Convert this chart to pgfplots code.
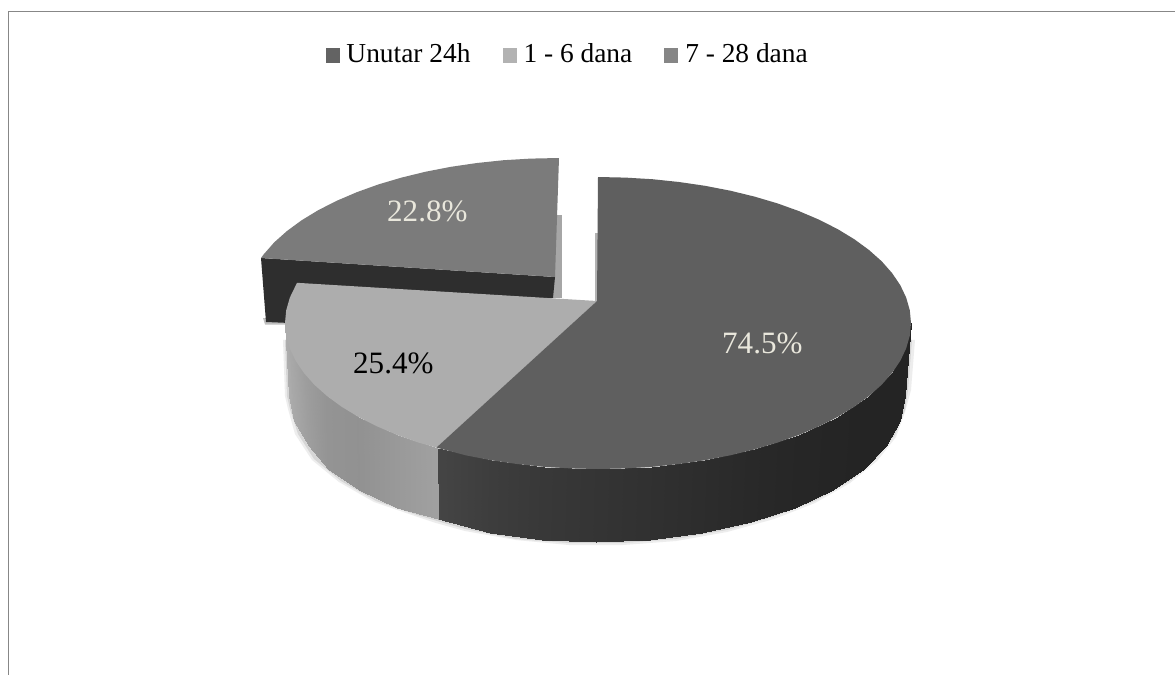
\documentclass[border=0pt]{standalone}
\usepackage{fontspec}
\setmainfont{Liberation Serif}
\usepackage{pgfplots}
\usepgfplotslibrary{patchplots}
\pgfplotsset{compat=1.18}
\definecolor{cA}{HTML}{5F5F5F}
\definecolor{cB}{HTML}{ADADAD}
\definecolor{cC}{HTML}{7B7B7B}
\definecolor{cAleg}{HTML}{636363}
\definecolor{cBleg}{HTML}{B2B2B2}
\definecolor{cCleg}{HTML}{868686}
\definecolor{cream}{HTML}{E9E7DC}
\begin{document}
\begin{tikzpicture}
\begin{axis}[
  scale only axis, width=1175bp, height=675bp,
  xmin=0, xmax=1175, ymin=0, ymax=675, y dir=reverse,
  hide axis,
  colormap={graymap}{gray(0)=(0); gray(1)=(1)},
  point meta min=0, point meta max=1,
  legend columns=-1,
  legend style={at={(axis cs:325.5,53.5)}, anchor=west, draw=none, fill=none, inner sep=0pt, outer sep=0pt,
    font=\fontsize{27.5}{30}\selectfont, cells={anchor=base west},
    /tikz/every even column/.append style={column sep=30bp},
    /tikz/every odd column/.append style={column sep=5bp}},
  legend image code/.code={\fill[#1] (0bp,-1bp) rectangle (14bp,14.5bp);},
]
\addlegendimage{fill=cAleg,draw=none}
\addlegendimage{fill=cBleg,draw=none}
\addlegendimage{fill=cCleg,draw=none}
\legend{Unutar 24h,1 - 6 dana,7 - 28 dana}
% white page and frame
\addplot[forget plot, draw=none, fill=white] coordinates {(0,0) (1175,0) (1175,675) (0,675)} --cycle;
\addplot[forget plot, draw=black!47, line width=1.8bp] coordinates {(1175,11.5) (8.5,11.5) (8.5,675)};
% soft shadows
\addplot[forget plot, draw=none, fill=black!7] coordinates {(283,340) (285,396) (288,409) (295,434) (312,460) (339,482) (374,502) (415,516) (436,523) (465,531) (516,540) (569,545) (623,545) (676,541) (727,532) (774,519) (815,503) (850,483) (877,461) (896,437) (905,412) (911,390) (915,340) (600,320)} --cycle;
\addplot[forget plot, draw=none, fill=black!16] coordinates {(285,340) (287,396) (290,409) (298,434) (314,459) (341,481) (376,501) (417,515) (437,521) (465,529) (516,539) (569,543) (623,543) (676,539) (727,530) (773,517) (815,501) (850,481) (876,459) (895,435) (905,410) (908,390) (912,340) (600,320)} --cycle;
\addplot[forget plot, draw=none, fill=black!35] coordinates {(553,215) (561.5,215) (561.5,298) (553,298)} --cycle;
\addplot[forget plot, draw=none, fill=black!30] coordinates {(595,233) (600,233) (600,301) (595,301)} --cycle;
\addplot[forget plot, draw=none, fill=black!25] coordinates {(263,318) (300,318) (300,324.5) (265,324.5)} --cycle;
% detached slice
\addplot[forget plot, draw=none, fill=black!82] coordinates {(261,258) (555,277) (553,298) (400,300) (290,323) (266,322)} --cycle;
\addplot[forget plot, draw=none, fill=cC] coordinates {(559,158) (530.7,158.6) (503.7,160.2) (477,163) (451,166.8) (425.7,171.7) (401.5,177.6) (378.5,184.4) (356.8,192.2) (336.7,200.8) (318.2,210.2) (301.6,220.3) (287,231) (274.3,242.3) (263.9,254.1) (261,258) (555,277)} --cycle;
% side walls, strip by strip: x y shade
\addplot[forget plot, patch, patch type=rectangle, shader=interp, point meta=explicit]
 table[meta=c] {
x y c
911 323 0.14
906.2 348.3 0.14
900.3 421.3 0.14
905 396 0.14
906.2 348.3 0.14
892.1 372.9 0.14
886.4 445.9 0.14
900.3 421.3 0.14
892.1 372.9 0.14
869 396 0.14
863.6 469 0.14
886.4 445.9 0.14
869 396 0.14
837.8 416.8 0.145
832.7 489.8 0.145
863.6 469 0.14
837.8 416.8 0.145
799.2 434.8 0.15
794.6 507.8 0.15
832.7 489.8 0.145
799.2 434.8 0.15
754.5 449.4 0.16
750.5 522.4 0.16
794.6 507.8 0.15
754.5 449.4 0.16
705 460.2 0.175
701.7 533.2 0.175
750.5 522.4 0.16
705 460.2 0.175
652.3 466.8 0.19
649.6 539.8 0.19
701.7 533.2 0.175
652.3 466.8 0.19
598 469 0.205
596 542 0.205
649.6 539.8 0.19
598 469 0.205
543.7 466.8 0.22
542.4 539.8 0.22
596 542 0.205
543.7 466.8 0.22
491 460.2 0.24
490.3 533.2 0.24
542.4 539.8 0.22
491 460.2 0.24
436.5 447.5 0.27
438 519 0.27
490.3 533.2 0.24
};
\addplot[forget plot, patch, patch type=rectangle, shader=interp, point meta=explicit]
 table[meta=c] {
x y c
436.5 447.5 0.63
396.8 434.8 0.60
397.4 507.8 0.60
438 519 0.63
396.8 434.8 0.60
358.2 416.8 0.57
359.3 489.8 0.57
397.4 507.8 0.60
358.2 416.8 0.57
327 396 0.58
328.4 469 0.58
359.3 489.8 0.57
327 396 0.58
303.9 372.9 0.62
309 446 0.62
328.4 469 0.58
303.9 372.9 0.62
289.8 348.3 0.66
294 421 0.66
309 446 0.62
289.8 348.3 0.66
285 323 0.68
289 396 0.68
294 421 0.66
};
% top faces
\addplot[forget plot, draw=none, fill=cB] coordinates {(597,301) (297,282.8) (289.8,297.7) (286.2,310.3) (285,323) (286.2,335.7) (289.8,348.3) (295.7,360.8) (303.9,372.9) (314.3,384.7) (327,396) (341.6,406.7) (358.2,416.8) (376.7,426.2) (396.8,434.8) (418.5,442.6) (436.5,447.5)} --cycle;
\addplot[forget plot, draw=none, fill=cA] coordinates {(597,301) (598,177) (625.3,177.6) (652.3,179.2) (679,182) (705,185.8) (730.3,190.7) (754.5,196.6) (777.5,203.4) (799.2,211.2) (819.3,219.8) (837.8,229.2) (854.4,239.3) (869,250) (881.7,261.3) (892.1,273.1) (900.3,285.2) (906.2,297.7) (909.8,310.3) (911,323) (909.8,335.7) (906.2,348.3) (900.3,360.8) (892.1,372.9) (881.7,384.7) (869,396) (854.4,406.7) (837.8,416.8) (819.3,426.2) (799.2,434.8) (777.5,442.6) (754.5,449.4) (730.3,455.3) (705,460.2) (679,464) (652.3,466.8) (625.3,468.4) (598,469) (570.7,468.4) (543.7,466.8) (517,464) (491,460.2) (465.7,455.3) (436.5,447.5)} --cycle;
% value labels
\node[anchor=base west, inner sep=0pt, text=cream, font=\fontsize{31.2}{32}\selectfont] at (axis cs:387,221) {22.8\%};
\node[anchor=base west, inner sep=0pt, text=black, font=\fontsize{31.2}{32}\selectfont] at (axis cs:353,373) {25.4\%};
\node[anchor=base west, inner sep=0pt, text=cream, font=\fontsize{31.2}{32}\selectfont] at (axis cs:722,353) {74.5\%};
\end{axis}
\end{tikzpicture}
\end{document}
